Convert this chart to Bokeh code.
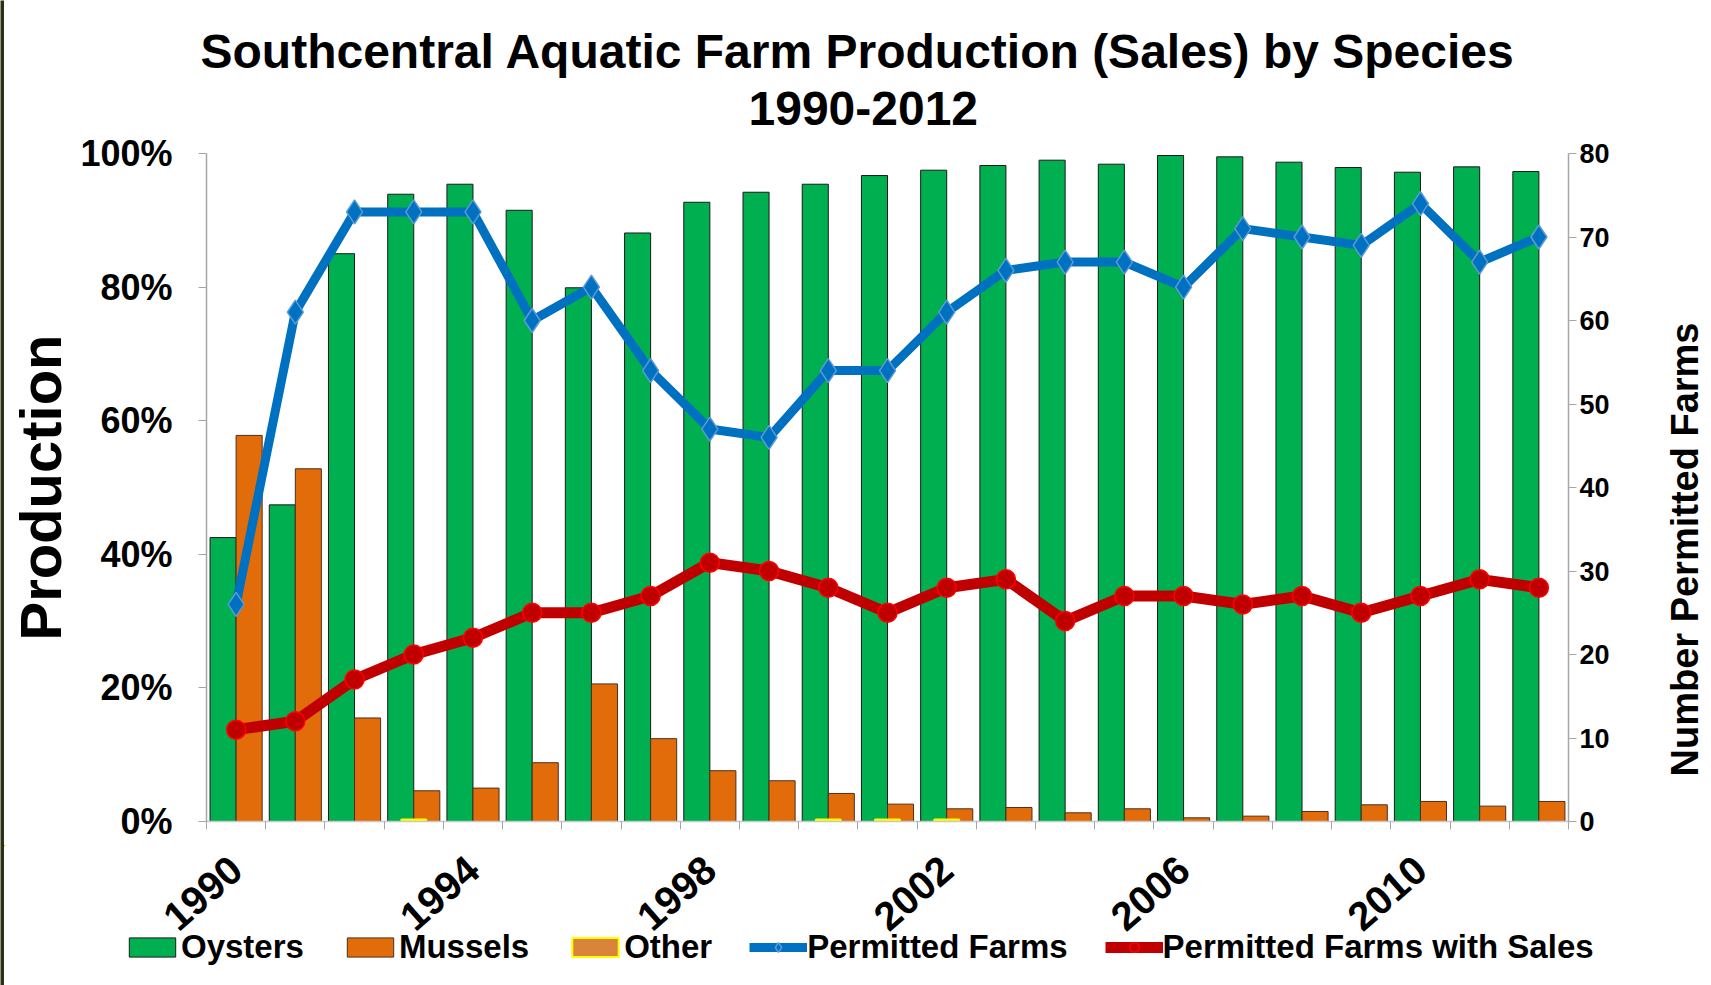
import math
from bokeh.plotting import figure
from bokeh.layouts import row, column
from bokeh.models import (Range1d, LinearAxis, FixedTicker, Legend, LegendItem,
                          Title, ColumnDataSource, NumeralTickFormatter)
from bokeh.core.properties import value
from bokeh.embed import file_html
from bokeh.resources import INLINE

# ---------------- data ----------------
years = list(range(1990, 2013))
oysters = [0.425, 0.474, 0.850, 0.939, 0.954, 0.915, 0.799, 0.881, 0.927, 0.942,
           0.954, 0.967, 0.975, 0.982, 0.990, 0.984, 0.997, 0.995, 0.987, 0.979,
           0.972, 0.980, 0.973]
mussels = [0.578, 0.528, 0.155, 0.046, 0.050, 0.088, 0.206, 0.124, 0.076, 0.061,
           0.042, 0.026, 0.019, 0.021, 0.013, 0.019, 0.0055, 0.008, 0.015, 0.025,
           0.030, 0.023, 0.030]
other = [0, 0, 0, 0.003, 0, 0, 0, 0, 0, 0,
         0.003, 0.003, 0.003, 0, 0, 0, 0, 0, 0, 0,
         0, 0, 0]
permitted_farms = [26, 61, 73, 73, 73, 60, 64, 54, 47, 46,
                   54, 54, 61, 66, 67, 67, 64, 71, 70, 69,
                   74, 67, 70]
farms_with_sales = [11, 12, 17, 20, 22, 25, 25, 27, 31, 30,
                    28, 25, 28, 29, 24, 27, 27, 26, 27, 25,
                    27, 29, 28]
x_tick_years = ["1990", "1994", "1998", "2002", "2006", "2010"]
x_tick_index = [0, 4, 8, 12, 16, 20]
pct_ticks = [0, 0.2, 0.4, 0.6, 0.8, 1.0]
farm_ticks = [0, 10, 20, 30, 40, 50, 60, 70, 80]
title_line1 = "Southcentral Aquatic Farm Production (Sales) by Species"
title_line2 = "1990-2012"
left_label = "Production"
right_label = "Number Permitted Farms"
legend_labels = ["Oysters", "Mussels", "Other", "Permitted Farms",
                 "Permitted Farms with Sales"]

FONT = "Liberation Sans"
GREEN = "#00b050"
ORANGE = "#e36c0a"
OTHER = "#d9843b"
BLUE = "#0070c0"
RED = "#c00000"

# ---------------- layout constants (page pixels) ----------------
TOTAL_W, TOTAL_H = 1711, 985
LEFT_BAND = 4
SIDE_W = 60                      # strip holding the right axis title
MAIN_W = TOTAL_W - SIDE_W - LEFT_BAND
ORG_X = LEFT_BAND
FRAME_L, FRAME_R, FRAME_T, FRAME_B = 206, 1568, 153, 821   # page coords
LOW_TOP = 845                                        # page y where lower strip starts
MAIN_H = LOW_TOP
LOW_H = TOTAL_H - LOW_TOP
n = len(years)
PX_PER_CAT = (FRAME_R - FRAME_L) / n

idx = list(range(n))
src = ColumnDataSource(dict(
    i=idx,
    i_left=[i - 0.22 for i in idx],
    i_right=[i + 0.22 for i in idx],
    oysters=oysters, mussels=mussels,
    permitted=permitted_farms, sales=farms_with_sales,
))
oth_idx = [i for i, v in enumerate(other) if v > 0]
src_other = ColumnDataSource(dict(i=oth_idx, v=[other[i] for i in oth_idx]))


def no_align(fig):
    try:
        fig.frame_align = False
    except Exception:
        pass


def blank(w, h, xr=None, yr=None, color="white"):
    f = figure(width=w, height=h, output_backend="svg", toolbar_location=None,
               x_axis_type=None, y_axis_type=None,
               x_range=xr if xr is not None else Range1d(0, w),
               y_range=yr if yr is not None else Range1d(0, h),
               min_border=0, min_border_left=0, min_border_right=0,
               min_border_top=0, min_border_bottom=0)
    no_align(f)
    f.outline_line_color = None
    f.grid.visible = False
    f.background_fill_color = color
    f.border_fill_color = color
    return f


# ---------------- main plot ----------------
p = figure(width=MAIN_W, height=MAIN_H, output_backend="svg", toolbar_location=None,
           x_range=Range1d(-0.5, n - 0.5), y_range=Range1d(0, 1),
           min_border_left=FRAME_L - ORG_X,
           min_border_right=MAIN_W - (FRAME_R - ORG_X),
           min_border_top=FRAME_T,
           min_border_bottom=MAIN_H - FRAME_B)
no_align(p)
p.extra_y_ranges = {"farms": Range1d(0, 80)}
p.outline_line_color = None
p.xgrid.visible = False
p.ygrid.visible = False
p.background_fill_color = "white"
p.border_fill_color = "white"

# titles (first added sits nearest the plot)
p.title.text = title_line1
p.title.align = "left"
p.title.offset = -6
p.title.text_font = FONT
p.title.text_font_size = "48px"
p.title.text_font_style = "bold"
p.title.text_color = "black"
p.title.standoff = 0
spacer = Title(text=" ", align="left", text_font=FONT, text_font_size="1px",
               standoff=13)
p.add_layout(spacer, "above")
t2 = Title(text=title_line2, align="left", offset=542,
           text_font=FONT, text_font_size="48px", text_color="black",
           text_font_style="bold", standoff=25)
p.add_layout(t2, "above")

# bars
bar_oys = dict(fill_color=GREEN, line_color="#1a1a1a", line_width=1)
bar_mus = dict(fill_color=ORANGE, line_color="#4a3020", line_width=1)
bar_oth = dict(fill_color=OTHER, line_color="#ffff00", line_width=2)
p.vbar(x="i_left", top="oysters", width=0.44, source=src, **bar_oys)
p.vbar(x="i_right", top="mussels", width=0.44, source=src, **bar_mus)
p.vbar(x="i", top="v", width=0.42, source=src_other, **bar_oth)

# lines
line_b = dict(line_color=BLUE, line_width=9, line_join="round")
mark_b = dict(marker="diamond", size=24, fill_color=BLUE, line_color="#5b9bd5",
              line_width=1.5)
line_r = dict(line_color=RED, line_width=11, line_join="round")
mark_r = dict(marker="circle", size=19, fill_color=RED, line_color="#ff0000",
              line_width=1.5)
p.line(x="i", y="permitted", source=src, y_range_name="farms", **line_b)
p.scatter(x="i", y="permitted", source=src, y_range_name="farms", **mark_b)
p.line(x="i", y="sales", source=src, y_range_name="farms", **line_r)
p.scatter(x="i", y="sales", source=src, y_range_name="farms", **mark_r)

# axes
xa = p.xaxis[0]
xa.ticker = FixedTicker(ticks=[], minor_ticks=[i - 0.5 for i in range(n + 1)])
xa.major_tick_line_color = None
xa.major_tick_out = 0
xa.major_tick_in = 0
xa.minor_tick_out = 8
xa.minor_tick_in = 0
xa.minor_tick_line_color = "#a6a6a6"
xa.axis_line_color = "#c8c8c8"
xa.axis_line_width = 1.5
xa.major_label_standoff = 0

ya = p.yaxis[0]
ya.ticker = FixedTicker(ticks=pct_ticks, minor_ticks=[])
ya.formatter = NumeralTickFormatter(format="0%")
ya.major_tick_out = 8
ya.major_tick_in = 0
ya.major_tick_line_color = "#a6a6a6"
ya.axis_line_color = "#a6a6a6"
ya.axis_line_width = 1.5
ya.major_label_text_font = FONT
ya.major_label_text_font_size = "36px"
ya.major_label_text_font_style = "bold"
ya.major_label_text_color = "black"
ya.major_label_standoff = 26
ya.axis_label = left_label
ya.axis_label_text_font = FONT
ya.axis_label_text_font_size = "58px"
ya.axis_label_text_font_style = "bold"
ya.axis_label_text_color = "black"
ya.axis_label_standoff = 4

ra = LinearAxis(y_range_name="farms",
                ticker=FixedTicker(ticks=farm_ticks, minor_ticks=[]))
ra.major_tick_out = 8
ra.major_tick_in = 0
ra.major_tick_line_color = "#a6a6a6"
ra.axis_line_color = "#a6a6a6"
ra.axis_line_width = 1.5
ra.major_label_text_font = FONT
ra.major_label_text_font_size = "27px"
ra.major_label_text_font_style = "bold"
ra.major_label_text_color = "black"
ra.major_label_standoff = 3
p.add_layout(ra, "right")

# ---------------- lower strip: year labels + legend ----------------
# x range shares the main plot's category scale; the legend's proxy marks use
# an extra x range and a y range that keep them far out of view
fl = FRAME_L - ORG_X
fr = FRAME_R - ORG_X
p2 = blank(MAIN_W, LOW_H,
           xr=Range1d(-0.5 - fl / PX_PER_CAT, n - 0.5 + (MAIN_W - fr) / PX_PER_CAT),
           yr=Range1d(-1000 - LOW_H, -1000))
p2.extra_x_ranges = {"hide": Range1d(5000, 6000)}
p2.text(x=x_tick_index, y=[-1000 - 18] * len(x_tick_index), text=x_tick_years,
        angle=0.72, text_align="right", text_baseline="middle",
        text_font=value(FONT), text_font_size=value("40px"),
        text_font_style="bold", text_color="black")

hide = dict(x_range_name="hide")
lr1 = p2.vbar(x="i_left", top="oysters", width=0.44, source=src, **hide, **bar_oys)
lr2 = p2.vbar(x="i_right", top="mussels", width=0.44, source=src, **hide, **bar_mus)
lr3 = p2.vbar(x="i", top="v", width=0.42, source=src_other, **hide, **bar_oth)
lr4a = p2.line(x="i", y="permitted", source=src, **hide, **line_b)
lr4b = p2.scatter(x="i", y="permitted", source=src, **hide, **mark_b)
lr5a = p2.line(x="i", y="sales", source=src, **hide, **line_r)
lr5b = p2.scatter(x="i", y="sales", source=src, **hide, **mark_r)
legend = Legend(items=[
    LegendItem(label=legend_labels[0], renderers=[lr1]),
    LegendItem(label=legend_labels[1], renderers=[lr2]),
    LegendItem(label=legend_labels[2], renderers=[lr3]),
    LegendItem(label=legend_labels[3], renderers=[lr4a, lr4b]),
    LegendItem(label=legend_labels[4], renderers=[lr5a, lr5b]),
], orientation="horizontal", location=(123 - ORG_X, 19),
    label_text_font=FONT, label_text_font_size="33px",
    label_text_font_style="bold", label_text_color="black",
    glyph_width=58, glyph_height=24, label_standoff=0, spacing=37,
    padding=0, margin=0, border_line_color=None, background_fill_alpha=0)
p2.add_layout(legend)

# ---------------- right axis title strip ----------------
p3 = blank(SIDE_W, TOTAL_H)
p3.text(x=[1684 - (ORG_X + MAIN_W)], y=[TOTAL_H - 549], text=[right_label],
        angle=math.pi / 2, text_align="center", text_baseline="middle",
        text_font=value(FONT), text_font_size=value("38px"),
        text_font_style="bold", text_color="black")

# ---------------- slide frame edge on the left ----------------
band_left = blank(LEFT_BAND, TOTAL_H, color="#2b3016")

layout = row(band_left, column(p, p2), p3)
open("out.html", "w").write(file_html(layout, INLINE))
